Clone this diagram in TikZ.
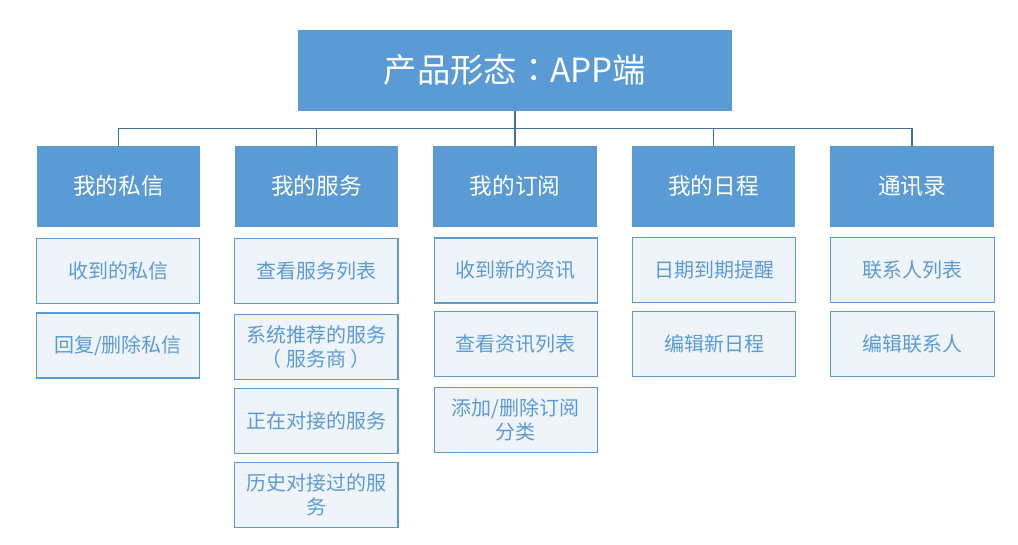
\documentclass[tikz,border=0pt]{standalone}
\usepackage{fontspec}
\setmainfont{Noto Sans CJK SC}
\newfontfamily\cjktc{Noto Sans CJK TC}
\usepackage{tikz}
\usetikzlibrary{positioning}
\definecolor{boxblue}{RGB}{91,155,213}
\definecolor{boxlight}{RGB}{239,244,251}
\definecolor{linkblue}{RGB}{65,113,156}

\begin{document}
\begin{tikzpicture}[x=0.75pt,y=-0.75pt,
    mainbox/.style={fill=boxblue,text=white,minimum width=325.5pt,minimum height=60.5pt,inner sep=0pt,font=\fontsize{25}{29}\selectfont},
    catbox/.style={fill=boxblue,text=white,minimum width=122.5pt,minimum height=60.5pt,inner sep=0pt,font=\fontsize{17}{20}\selectfont},
    subbox/.style={fill=boxlight,draw=boxblue,line width=0.9pt,text=boxblue,minimum width=122.5pt,minimum height=48.8pt,inner sep=0pt,align=center,font=\fontsize{15}{18}\selectfont},
    link/.style={draw=linkblue,line width=0.8pt}]
    \useasboundingbox (0,0) rectangle (1018,544);
    \node[mainbox] (top) at (515,70.3) {产品形态{\cjktc ：}APP端};
    % categories
    \node[catbox] (c1) at (118.5,186.3) {我的私信};
    \node[catbox] (c2) at (316.5,186.3) {我的服务};
    \node[catbox] (c3) at (515,186.3) {我的订阅};
    \node[catbox] (c4) at (713.5,186.3) {我的日程};
    \node[catbox] (c5) at (912,186.3) {通讯录};
    % connectors
    \coordinate (bus) at (515,128.3);
    \draw[link] (top.south) -- (bus);
    \draw[link] (c1.north |- bus) -- (c5.north |- bus);
    \foreach \c in {c1,c2,c3,c4,c5}
        \draw[link] (\c.north |- bus) -- (\c.north);
    % sub items
    \node[subbox] (s11) at (118,270.8) {收到的私信};
    \node[subbox] (s12) at (118,345.5) {回复/删除私信};
    \node[subbox] (s21) at (316.3,271.3) {查看服务列表};
    \node[subbox] (s22) at (316.3,346.8) {系统推荐的服务\\（ 服务商 ）};
    \node[subbox] (s23) at (316.3,420.8) {正在对接的服务};
    \node[subbox] (s24) at (316.3,494.8) {历史对接过的服\\务};
    \node[subbox] (s31) at (515.8,270.5) {收到新的资讯};
    \node[subbox] (s32) at (515.8,344.2) {查看资讯列表};
    \node[subbox] (s33) at (515.8,420.3) {添加/删除订阅\\分类};
    \node[subbox] (s41) at (714,270.3) {日期到期提醒};
    \node[subbox] (s42) at (714,344.2) {编辑新日程};
    \node[subbox] (s51) at (912.5,270.3) {联系人列表};
    \node[subbox] (s52) at (912.5,344.2) {编辑联系人};
\end{tikzpicture}
\end{document}
